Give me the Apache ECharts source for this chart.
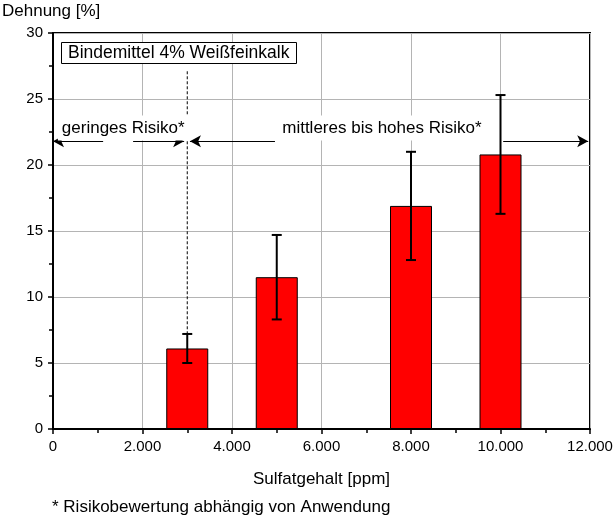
<!DOCTYPE html>
<html>
<head>
<meta charset="utf-8">
<script src="https://cdn.jsdelivr.net/npm/echarts@6/dist/echarts.min.js"></script>
<style>
html,body{margin:0;padding:0;background:#fff;}
#c{width:616px;height:520px;}
</style>
</head>
<body>
<div id="c"></div>
<script>
// Data
var sulfat = [3000, 5000, 8000, 10000];
var dehnung = [6.1, 11.5, 16.9, 20.8];
var errLow = [5.0, 8.3, 12.8, 16.3];
var errHigh = [7.2, 14.7, 21.0, 25.3];
var xTicks = ['0', '2.000', '4.000', '6.000', '8.000', '10.000', '12.000'];
var yTicks = ['0', '5', '10', '15', '20', '25', '30'];

// Annotations (data coordinates): [from, to], arrowhead at "to"
var dividerX = 3000;
var dividerTop = 27.1;
var arrowY = 21.8;
var arrows = [[1120, 0], [1790, 2930], [4960, 3060], [10060, 11960]];
var labels = [
  {text: 'geringes Risiko*', x: 1570, y: 22.8},
  {text: 'mittleres bis hohes Risiko*', x: 7350, y: 22.8}
];

var FONT = 'Liberation Sans, Arial, sans-serif';
var chart = echarts.init(document.getElementById('c'), null, {renderer: 'canvas'});

var barData = sulfat.map(function (x, i) { return [x, dehnung[i]]; });
var errData = sulfat.map(function (x, i) { return [x, errLow[i], errHigh[i]]; });

var arrowLines = arrows.map(function (a) {
  return [{coord: [a[0], arrowY], symbol: 'none'}, {coord: [a[1], arrowY], symbol: 'arrow'}];
});

var option = {
  backgroundColor: '#fff',
  animation: false,
  textStyle: {fontFamily: FONT},
  title: {
    text: 'Bindemittel 4% Weißfeinkalk',
    left: 61, top: 42,
    borderColor: '#000', borderWidth: 1,
    padding: [2, 7, 2, 7],
    backgroundColor: '#fff',
    textStyle: {fontFamily: FONT, fontSize: 17.5, fontWeight: 'normal', color: '#000', lineHeight: 18}
  },
  grid: {left: 53, right: 26, top: 33, bottom: 91, show: true, borderColor: '#000', borderWidth: 2, backgroundColor: 'transparent'},
  xAxis: {
    type: 'value', min: 0, max: 12000, interval: 2000,
    name: 'Sulfatgehalt [ppm]', nameLocation: 'middle', nameGap: 42,
    nameTextStyle: {fontFamily: FONT, fontSize: 17, color: '#000'},
    axisLine: {show: true, onZero: false, lineStyle: {color: '#000', width: 2}},
    axisTick: {show: true, inside: false, length: 5, lineStyle: {color: '#000', width: 1.5}},
    minorTick: {show: true, splitNumber: 2, length: 4, lineStyle: {color: '#000', width: 1.5}},
    axisLabel: {
      fontFamily: FONT, fontSize: 15, color: '#000', margin: 10,
      formatter: function (v) { return xTicks[Math.round(v / 2000)]; }
    },
    splitLine: {show: true, lineStyle: {color: '#b4b4b4', width: 1}}
  },
  yAxis: {
    type: 'value', min: 0, max: 30, interval: 5,
    axisLine: {show: true, onZero: false, lineStyle: {color: '#000', width: 2}},
    axisTick: {show: true, inside: false, length: 5, lineStyle: {color: '#000', width: 1.5}},
    minorTick: {show: true, splitNumber: 2, length: 4, lineStyle: {color: '#000', width: 1.5}},
    axisLabel: {
      fontFamily: FONT, fontSize: 15, color: '#000', margin: 10,
      formatter: function (v) { return yTicks[Math.round(v / 5)]; }
    },
    splitLine: {show: true, lineStyle: {color: '#b4b4b4', width: 1}}
  },
  series: [
    {
      type: 'bar',
      data: barData,
      barWidth: 42,
      z: 3,
      itemStyle: {color: '#ff0000', borderColor: '#000', borderWidth: 1},
      markLine: {
        silent: true,
        z: 5,
        symbolSize: [9, 11],
        label: {show: false},
        lineStyle: {color: '#000', width: 1.2, type: 'solid'},
        data: arrowLines
      }
    },
    {
      type: 'custom',
      z: 6,
      data: errData,
      renderItem: function (params, api) {
        var x = api.value(0);
        var lo = api.coord([x, api.value(1)]);
        var hi = api.coord([x, api.value(2)]);
        var hw = 5;
        var st = {stroke: '#000', lineWidth: 2};
        return {
          type: 'group',
          children: [
            {type: 'line', shape: {x1: lo[0], y1: lo[1], x2: hi[0], y2: hi[1]}, style: st},
            {type: 'line', shape: {x1: lo[0] - hw, y1: lo[1], x2: lo[0] + hw, y2: lo[1]}, style: st},
            {type: 'line', shape: {x1: hi[0] - hw, y1: hi[1], x2: hi[0] + hw, y2: hi[1]}, style: st}
          ]
        };
      }
    },
    {
      type: 'line',
      data: [[dividerX, dividerTop], [dividerX, errHigh[0]]],
      symbol: 'none',
      z: 4,
      lineStyle: {color: '#000', width: 1, type: [3, 2]}
    }
  ]
};
chart.setOption(option);

var g = [
  {type: 'text', left: 2, top: 3, style: {text: 'Dehnung [%]', font: '17px ' + FONT, fill: '#000'}},
  {type: 'text', left: 52, top: 499, style: {text: '* Risikobewertung abhängig von Anwendung', font: '17px ' + FONT, fill: '#000'}}
];
labels.forEach(function (l) {
  var p = chart.convertToPixel({gridIndex: 0}, [l.x, l.y]);
  g.push({
    type: 'text', x: p[0], y: p[1], z: 10,
    style: {
      text: l.text, font: '17px ' + FONT, fill: '#000',
      align: 'center', verticalAlign: 'middle',
      backgroundColor: '#fff', padding: [4, 4]
    }
  });
});
chart.setOption({graphic: g});
</script>
</body>
</html>
